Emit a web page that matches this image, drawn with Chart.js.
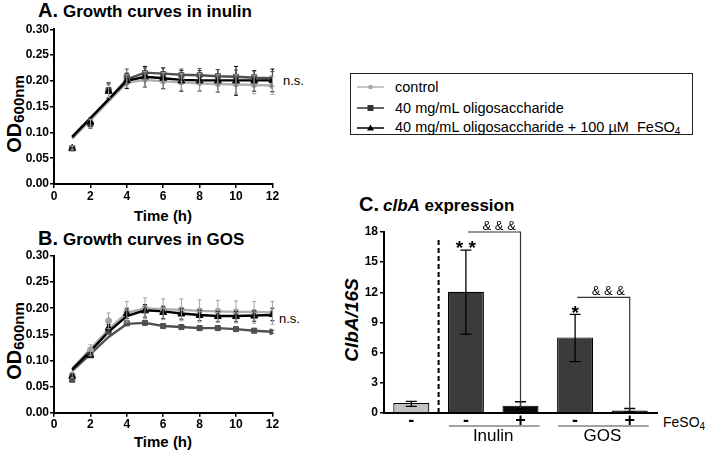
<!DOCTYPE html>
<html><head><meta charset="utf-8">
<script src="https://cdn.jsdelivr.net/npm/chart.js@4.4.1/dist/chart.umd.min.js"></script>
<style>
body{margin:0;background:#fff;width:709px;height:453px;overflow:hidden;position:relative;font-family:'Liberation Sans',Arial,Helvetica,sans-serif;color:#000}
canvas{position:absolute}
.t{position:absolute;white-space:nowrap;line-height:1}
.b{font-weight:bold}
.rot{transform:translate(-50%,-50%) rotate(-90deg);transform-origin:center}
.row{position:absolute;left:357px;height:18px;display:flex;align-items:center;font-size:14.5px;white-space:nowrap}
.row span{margin-left:11px}
</style></head><body>

<!-- Panel titles -->
<div class="t b" style="left:38px;top:0px;font-size:20px">A.</div>
<div class="t b" style="left:63px;top:2.6px;font-size:17px">Growth curves in inulin</div>
<div class="t b" style="left:38px;top:228px;font-size:20px">B.</div>
<div class="t b" style="left:63px;top:230.6px;font-size:17px">Growth curves in GOS</div>
<div class="t b" style="left:359px;top:194px;font-size:20px">C.</div>
<div class="t b" style="left:383px;top:196.6px;font-size:17px"><i>clbA</i> expression</div>

<!-- axis titles -->
<div class="t b rot" style="left:14px;top:114px"><span style="font-size:20px">OD</span><span style="font-size:15px;position:relative;top:3px">600nm</span></div>
<div class="t b rot" style="left:14px;top:341px"><span style="font-size:20px">OD</span><span style="font-size:15px;position:relative;top:3px">600nm</span></div>
<div class="t b" style="left:163px;top:207.7px;font-size:15px;transform:translateX(-50%)">Time (h)</div>
<div class="t b" style="left:163px;top:434.4px;font-size:15px;transform:translateX(-50%)">Time (h)</div>
<div class="t b rot" style="left:351px;top:320px;font-size:19px"><i>ClbA/16S</i></div>

<div class="t" style="left:283px;top:73.5px;font-size:13px">n.s.</div>
<div class="t" style="left:279px;top:311.5px;font-size:13px">n.s.</div>
<div class="t" style="left:663px;top:415px;font-size:14px">FeSO<sub style="font-size:10px;vertical-align:-3px">4</sub></div>

<!-- legend -->
<div style="position:absolute;left:350px;top:73px;width:343px;height:62px;border:1.5px solid #222;box-sizing:border-box"></div>
<div class="row" style="top:77.7px"><svg width="27" height="18"><line x1="0" y1="9" x2="27" y2="9" stroke="#b3b3b3" stroke-width="1.5"/><circle cx="13.5" cy="9" r="2.3" fill="#a8a8a8"/></svg><span>control</span></div>
<div class="row" style="top:98.7px"><svg width="27" height="18"><line x1="0" y1="9" x2="27" y2="9" stroke="#333" stroke-width="1.5"/><rect x="10.5" y="6" width="6" height="6" fill="#333"/></svg><span>40 mg/mL oligosaccharide</span></div>
<div class="row" style="top:119.3px"><svg width="27" height="18"><line x1="0" y1="9" x2="27" y2="9" stroke="#000" stroke-width="1.5"/><polygon points="13.5,5.5 17,11.5 10,11.5" fill="#000"/></svg><span>40 mg/mL oligosaccharide + 100 µM&nbsp; FeSO<sub style="font-size:10px;vertical-align:-3px">4</sub></span></div>

<canvas id="cA" width="310" height="230" style="left:0;top:0;width:310px;height:230px"></canvas>
<canvas id="cB" width="310" height="223" style="left:0;top:230px;width:310px;height:223px"></canvas>
<canvas id="cC" width="369" height="238" style="left:340px;top:215px;width:369px;height:238px"></canvas>

<script>
// ---------- DATA ----------
const hours = [1,2,3,4,5,6,7,8,9,10,11,12];
const timeTicks = [0,2,4,6,8,10,12];
const odTicks = [0,0.05,0.10,0.15,0.20,0.25,0.30];

// Panel A: inulin
const inulinControl    = [0.070,0.118,0.180,0.200,0.203,0.200,0.198,0.197,0.195,0.194,0.193,0.191];
const inulinControlErr = [0.004,0.008,0.012,0.012,0.015,0.016,0.016,0.017,0.017,0.018,0.018,0.017];
const inulinOligo      = [0.069,0.116,0.182,0.208,0.215,0.213,0.211,0.211,0.209,0.208,0.207,0.204];
const inulinOligoErr   = [0.003,0.008,0.015,0.015,0.010,0.012,0.012,0.013,0.013,0.013,0.012,0.014];
const inulinIron       = [0.069,0.120,0.180,0.200,0.208,0.205,0.200,0.200,0.200,0.200,0.200,0.201];
const inulinIronErr    = [0.003,0.008,0.014,0.015,0.020,0.020,0.020,0.020,0.022,0.028,0.020,0.022];
const inulinControlFit = [0.088,0.124,0.160,0.196,0.202,0.199,0.197,0.195,0.194,0.193,0.192,0.191];
const inulinOligoFit   = [0.090,0.127,0.164,0.203,0.216,0.214,0.212,0.211,0.209,0.208,0.206,0.205];
const inulinIronFit    = [0.092,0.128,0.164,0.200,0.208,0.205,0.202,0.201,0.201,0.201,0.201,0.201];

// Panel B: GOS
const gosControl    = [0.072,0.120,0.176,0.193,0.200,0.198,0.197,0.195,0.194,0.193,0.192,0.191];
const gosControlErr = [0.005,0.010,0.015,0.020,0.020,0.020,0.021,0.021,0.021,0.021,0.021,0.022];
const gosOligo      = [0.063,0.110,0.155,0.171,0.172,0.166,0.164,0.162,0.162,0.160,0.157,0.155];
const gosOligoErr   = [0.002,0.003,0.003,0.003,0.003,0.003,0.003,0.003,0.003,0.003,0.003,0.003];
const gosIron       = [0.070,0.110,0.162,0.190,0.195,0.192,0.189,0.186,0.184,0.184,0.185,0.188];
const gosIronErr    = [0.003,0.004,0.007,0.010,0.012,0.012,0.010,0.010,0.010,0.010,0.010,0.012];
const gosControlFit = [0.085,0.122,0.160,0.191,0.200,0.198,0.197,0.195,0.194,0.193,0.193,0.192];
const gosOligoFit   = [0.080,0.112,0.145,0.170,0.172,0.166,0.164,0.162,0.162,0.160,0.157,0.155];
const gosIronFit    = [0.083,0.118,0.155,0.185,0.196,0.194,0.190,0.187,0.185,0.185,0.186,0.187];

// Panel C: clbA expression
const clbCategories = ['control','Inulin -','Inulin +','GOS -','GOS +'];
const clbTickLabels = ['-','-','+','-','+'];
const clbValues     = [1.0, 12.05, 0.73, 7.52, 0.25];
const clbErrLow     = [0.65, 7.85, 0.40, 5.10, 0.10];
const clbErrHigh    = [1.15, 16.2, 1.12, 9.80, 0.45];
const clbTicks      = [0,3,6,9,12,15,18];
const clbGroups     = [{label:'Inulin', from:1, to:2}, {label:'GOS', from:3, to:4}];
const clbBrackets   = [{from:1, to:2, level:18.0, drop:0.5, text:'& & &'}, {from:3, to:4, level:11.5, drop:0.3, text:'& & &'}];
const clbStars      = [{at:1, level:16.9, text:'* *'}, {at:3, level:10.4, text:'*'}];

// ---------- STYLE ----------
Chart.defaults.font.family = "'Liberation Sans', Arial, Helvetica, sans-serif";
Chart.defaults.color = '#000';
const GRAY = '#b0b0b0', GRAYPT = '#a3a3a3', DARK = '#505050', BLACK = '#000';

const errorBars = {
  id: 'errorBars',
  afterDatasetsDraw(chart) {
    const ctx = chart.ctx, ys = chart.scales.y;
    chart.data.datasets.forEach((ds, di) => {
      const meta = chart.getDatasetMeta(di);
      if (ds.errors) {
        ctx.save(); ctx.strokeStyle = ds.errColor; ctx.lineWidth = 1;
        meta.data.forEach((el, i) => {
          const v = ds.data[i].y, e = ds.errors[i];
          const y1 = ys.getPixelForValue(v + e), y2 = ys.getPixelForValue(v - e), x = el.x;
          ctx.beginPath();
          ctx.moveTo(x, y1); ctx.lineTo(x, y2);
          ctx.moveTo(x - 2, y1); ctx.lineTo(x + 2, y1);
          ctx.moveTo(x - 2, y2); ctx.lineTo(x + 2, y2);
          ctx.stroke();
        });
        ctx.restore();
      }
      if (ds.errLow) {
        ctx.save(); ctx.strokeStyle = '#000'; ctx.lineWidth = 1.3;
        meta.data.forEach((el, i) => {
          const y1 = ys.getPixelForValue(ds.errHigh[i]), y2 = ys.getPixelForValue(ds.errLow[i]), x = el.x;
          ctx.beginPath();
          ctx.moveTo(x, y1); ctx.lineTo(x, y2);
          ctx.moveTo(x - 5.5, y1); ctx.lineTo(x + 5.5, y1);
          ctx.moveTo(x - 5.5, y2); ctx.lineTo(x + 5.5, y2);
          ctx.stroke();
        });
        ctx.restore();
      }
    });
  }
};

function pts(vals) { return hours.map((h, i) => ({x: h, y: vals[i]})); }

function growth(id, ctl, ctlE, oli, oliE, iron, ironE, ctlF, oliF, ironF, padTop, xH) {
  const markerDs = (label, vals, errs, style, r, col, ecol) => ({
    label, data: pts(vals), errors: errs, errColor: ecol, showLine: false,
    pointStyle: style, pointRadius: r, backgroundColor: col, borderColor: col, borderWidth: 1
  });
  const lineDs = (vals, col) => ({
    data: pts(vals), showLine: true, pointRadius: 0, borderColor: col, borderWidth: 2.4, tension: 0, fill: false
  });
  new Chart(document.getElementById(id), {
    type: 'scatter',
    data: { datasets: [
      markerDs('40 mg/mL oligosaccharide + 100 µM FeSO4', iron, ironE, 'triangle', 4, BLACK, BLACK),
      markerDs('40 mg/mL oligosaccharide', oli, oliE, 'rect', 3.6, DARK, DARK),
      markerDs('control', ctl, ctlE, 'circle', 3, GRAYPT, GRAYPT),
      lineDs(ironF, BLACK),
      lineDs(oliF, DARK),
      lineDs(ctlF, GRAY)
    ]},
    options: {
      responsive: false, animation: false, devicePixelRatio: 1,
      layout: { padding: { top: padTop, left: 0, right: 310 - 272.4, bottom: 0 } },
      plugins: { legend: { display: false }, tooltip: { enabled: false } },
      scales: {
        x: {
          type: 'linear', min: 0, max: 12,
          afterBuildTicks: s => { s.ticks = timeTicks.map(v => ({value: v})); },
          ticks: { font: { size: 12, weight: 'bold' }, padding: 1, color: '#000' },
          grid: { display: true, drawOnChartArea: false, drawTicks: true, tickLength: 4, color: '#000', lineWidth: 1.5 },
          border: { display: true, color: '#000', width: 2 },
          afterFit: s => { s.height = xH; }
        },
        y: {
          min: 0, max: 0.3,
          afterBuildTicks: s => { s.ticks = odTicks.map(v => ({value: v})); },
          ticks: { font: { size: 12, weight: 'bold' }, padding: 1, color: '#000', callback: v => Number(v).toFixed(2) },
          grid: { display: true, drawOnChartArea: false, drawTicks: true, tickLength: 4, color: '#000', lineWidth: 1.5 },
          border: { display: true, color: '#000', width: 2 },
          afterFit: s => { s.width = 54; }
        }
      }
    },
    plugins: [errorBars]
  });
}

growth('cA', inulinControl, inulinControlErr, inulinOligo, inulinOligoErr, inulinIron, inulinIronErr,
       inulinControlFit, inulinOligoFit, inulinIronFit, 29.3, 46);
growth('cB', gosControl, gosControlErr, gosOligo, gosOligoErr, gosIron, gosIronErr,
       gosControlFit, gosOligoFit, gosIronFit, 26, 40.3);

// Panel C annotations
const clbAnnot = {
  id: 'clbAnnot',
  afterDraw(chart) {
    const ctx = chart.ctx, xs = chart.scales.x, ys = chart.scales.y;
    const px = i => xs.getPixelForValue(i);
    ctx.save();
    // dashed separator between control and treatments
    const xd = (px(0) + px(1)) / 2;
    ctx.strokeStyle = '#000'; ctx.lineWidth = 2; ctx.setLineDash([5, 3]);
    ctx.beginPath(); ctx.moveTo(xd, ys.getPixelForValue(17.2)); ctx.lineTo(xd, ys.getPixelForValue(0)); ctx.stroke();
    ctx.setLineDash([]);
    // brackets
    ctx.lineWidth = 1.2; ctx.strokeStyle = '#333'; ctx.fillStyle = '#000';
    ctx.font = "13px 'Liberation Sans', Arial, sans-serif"; ctx.textAlign = 'center'; ctx.textBaseline = 'alphabetic';
    clbBrackets.forEach(b => {
      const y = ys.getPixelForValue(b.level), x1 = px(b.from) + 2, x2 = px(b.to);
      ctx.beginPath(); ctx.moveTo(x1, y); ctx.lineTo(x2, y); ctx.lineTo(x2, ys.getPixelForValue(b.drop)); ctx.stroke();
      ctx.fillText(b.text, (x1 + x2) / 2 + 5, y - 2);
    });
    // stars
    ctx.font = "bold 19px 'Liberation Sans', Arial, sans-serif";
    clbStars.forEach(s => { ctx.fillText(s.text, px(s.at), ys.getPixelForValue(s.level) + 11); });
    const yb = ys.getPixelForValue(0);
    // FeSO4 -/+ labels under each bar
    ctx.font = "bold 18px 'Liberation Sans', Arial, sans-serif"; ctx.textBaseline = 'middle';
    clbTickLabels.forEach((t, i) => { ctx.fillText(t, px(i), yb + 8); });
    // group underlines + labels
    ctx.strokeStyle = '#444'; ctx.lineWidth = 1;
    ctx.font = "17px 'Liberation Sans', Arial, sans-serif";
    clbGroups.forEach(g => {
      const x1 = px(g.from) - 17, x2 = px(g.to) + 19;
      ctx.beginPath(); ctx.moveTo(x1, yb + 13); ctx.lineTo(x2, yb + 13); ctx.stroke();
      ctx.fillText(g.label, (px(g.from) + px(g.to)) / 2, yb + 23);
    });
    ctx.restore();
  }
};

new Chart(document.getElementById('cC'), {
  type: 'bar',
  data: {
    labels: clbCategories,
    datasets: [{
      data: clbValues, errLow: clbErrLow, errHigh: clbErrHigh,
      backgroundColor: ['#c2c2c2', '#3b3b3b', '#0a0a0a', '#3b3b3b', '#0a0a0a'],
      borderColor: '#000', borderWidth: 1.2, borderSkipped: 'bottom',
      barPercentage: 0.66, categoryPercentage: 1
    }]
  },
  options: {
    responsive: false, animation: false, devicePixelRatio: 1,
    layout: { padding: { top: 17, left: 0, right: 52, bottom: 0 } },
    plugins: { legend: { display: false }, tooltip: { enabled: false } },
    scales: {
      x: {
        ticks: { display: false },
        grid: { display: false },
        border: { display: true, color: '#000', width: 2 },
        afterFit: s => { s.height = 40; }
      },
      y: {
        min: 0, max: 18,
        afterBuildTicks: s => { s.ticks = clbTicks.map(v => ({value: v})); },
        ticks: { font: { size: 12, weight: 'bold' }, padding: 2, color: '#000' },
        grid: { display: true, drawOnChartArea: false, drawTicks: true, tickLength: 4, color: '#000', lineWidth: 1.5 },
        border: { display: true, color: '#000', width: 2 },
        afterFit: s => { s.width = 44; }
      }
    }
  },
  plugins: [errorBars, clbAnnot]
});
</script>
</body></html>
